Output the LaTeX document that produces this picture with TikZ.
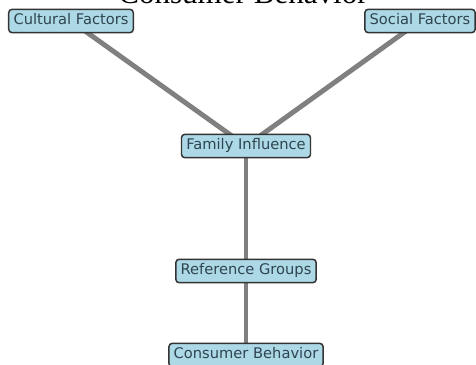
\documentclass[tikz,border=0pt]{standalone}
\usepackage{fontspec}
\setmainfont{DejaVu Sans}
\newfontfamily\titlefont{Liberation Serif}
\usetikzlibrary{backgrounds}
\definecolor{boxfill}{HTML}{ADD8E6}
\definecolor{boxdraw}{HTML}{333333}
\definecolor{txtcol}{HTML}{2F4550}
\definecolor{edgecol}{HTML}{808080}
\tikzset{
  factor/.style={draw=boxdraw, line width=1.1pt, fill=boxfill, rounded corners=2.5pt,
    text=txtcol, font=\fontsize{11}{13}\selectfont, inner xsep=3.6pt, inner ysep=0pt,
    minimum height=17.5pt, text height=8.2pt, text depth=2.3pt},
  link/.style={draw=edgecol, line width=3.7pt}
}
\begin{document}
\begin{tikzpicture}[x=0.75pt,y=-0.75pt]
\useasboundingbox (0,0) rectangle (476,365);
\node[anchor=base, font=\titlefont\fontsize{23.3}{27}\selectfont, text=black, inner sep=0pt] (title) at (243,3) {Consumer Behavior};
\node[factor] (cult) at (71,21) {Cultural Factors};
\node[factor] (soc) at (420,21) {Social Factors};
\node[factor] (fam) at (246,146) {Family Influence};
\node[factor] (ref) at (246,271) {Reference Groups};
\node[factor] (cons) at (246,355) {Consumer Behavior};
\begin{pgfonlayer}{background}
\draw[link] (cult.center) -- (fam.center);
\draw[link] (soc.center) -- (fam.center);
\draw[link] (fam.center) -- (ref.center);
\draw[link] (ref.center) -- (cons.center);
\end{pgfonlayer}
\end{tikzpicture}
\end{document}
